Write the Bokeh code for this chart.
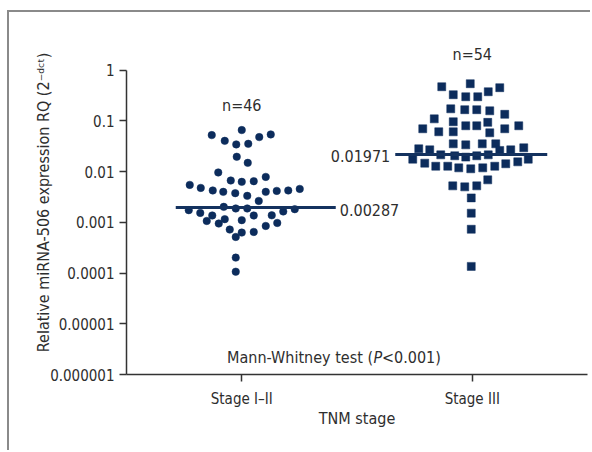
import numpy as np
from bokeh.plotting import figure
from bokeh.models import Range1d, FixedTicker, ColumnDataSource, CustomJSTickFormatter
from bokeh.core.properties import value
from bokeh.embed import file_html
from bokeh.resources import INLINE

# ---------------- data ----------------
groups = ["Stage I–II", "Stage III"]
group_n_labels = ["n=46", "n=54"]
median_labels = ["0.00287", "0.01971"]
median_drawn = [0.00195, 0.0217]          # where the median bars sit

stage12_values = [0.0521, 0.0655, 0.0402, 0.0342, 0.0351, 0.0476, 0.0538, 0.0195, 0.0148, 0.00957,
                  0.00545, 0.00475, 0.00665, 0.00625, 0.00644, 0.00783, 0.00423, 0.00397, 0.00374, 0.00331,
                  0.00263, 0.00397, 0.00415, 0.00423, 0.00454, 0.00173, 0.00153, 0.00201, 0.00187, 0.00187,
                  0.00136, 0.00106, 0.000944, 0.00115, 0.00110, 0.00136, 0.00137, 0.00163, 0.00181, 0.000968,
                  0.000845, 0.000718, 0.000513, 0.000626, 0.000644, 0.000201, 0.000106]
stage3_values = [0.468, 0.537, 0.326, 0.297, 0.297, 0.373, 0.448, 0.172, 0.165, 0.165,
                 0.157, 0.134, 0.109, 0.0955, 0.0796, 0.0796, 0.0929, 0.0695, 0.0606, 0.0606,
                 0.0579, 0.0695, 0.0796, 0.0351, 0.0335, 0.0351, 0.0351, 0.0280, 0.0267, 0.0260,
                 0.0267, 0.0293, 0.0175, 0.0213, 0.0204, 0.0192, 0.0204, 0.0213, 0.0175, 0.0146,
                 0.0127, 0.0127, 0.0118, 0.0113, 0.0118, 0.0127, 0.0142, 0.0155, 0.00684, 0.00521,
                 0.00498, 0.00521, 0.00302, 0.00151, 0.000728, 0.000135]

y_ticks = [1, 0.1, 0.01, 0.001, 0.0001, 0.00001, 0.000001]

# swarm spread of the dots (pixels, left/right of the category centre)
stage12_spread = [-30, 0, -17, -5.5, 6.5, 17.5, 29, -5, 6, -23.5, -52, -41, -11, 0, 12, 24, -29, -18.5,
                  -6.5, 5.5, 17, 24, 35, 46.5, 58, -53, -41.5, -18, -6, 5.5, -29.5, -35, -23, -17, 0,
                  12, 30, 41.5, 53, 35.5, 24, -12, -6, 0, 12, -6, -6]
stage3_spread = [-30.5, -2, -19, -6.5, 5.5, 16, 27.5, -21.5, -7.5, 4.5, 17.5, 32.5, -38, -19, -6.5,
                 4.5, 15.5, -49.5, -33.5, -19, 17.5, 32.5, 46.5, -19, -6.5, 10, 23.5, -53.5, -42.5,
                 27.5, 38.5, 51.5, -59.5, -31.5, -17.5, -6.5, 4.5, 16, 56, -47.5, -36.5, -24.5,
                 -13.5, -1.5, 10.5, 22.5, 33.5, 45.5, 15.5, -19.5, -7.5, 4.5, -1, -1, -1, -1]

# ---------------- layout ----------------
FONT = "DejaVu Sans Condensed, Roboto Condensed, Roboto, sans-serif"
TXT = "#2e2e2e"
NAVY = "#0c2c5c"
W, H = 583, 440
ML, MR, MT, MB = 117, 5, 18, 78
frame_w = W - ML - MR
frame_h = H - MT - MB
px_per_x = frame_w / 2.0
px_per_decade = 50.75
y_top = 10 ** (frame_h / px_per_decade - 6)

centers = [0.5, 1.5]

p = figure(width=W, height=H, x_range=Range1d(0, 2), y_range=Range1d(1e-6, y_top),
           y_axis_type="log", output_backend="svg", toolbar_location=None,
           min_border_left=ML, min_border_right=MR, min_border_top=MT, min_border_bottom=MB)
p.margin = (10, 0, 0, 7)
p.styles = {"border-top": "2px solid #8a8a8a", "border-left": "2px solid #8a8a8a"}
p.outline_line_color = None
p.grid.visible = False
p.background_fill_color = "white"
p.border_fill_color = "white"

# points
src12 = ColumnDataSource(dict(x=[centers[0] + s / px_per_x for s in stage12_spread], y=stage12_values))
src3 = ColumnDataSource(dict(x=[centers[1] + s / px_per_x for s in stage3_spread], y=stage3_values))
p.scatter("x", "y", source=src12, marker="circle", size=7.5, fill_color=NAVY, line_color=NAVY, line_width=0.5)
p.scatter("x", "y", source=src3, marker="square", size=8, fill_color=NAVY, line_color=NAVY, line_width=0.5)

# median bars
left_ext = [-66, -77]
right_ext = [94, 75]
p.segment(x0=[c + l / px_per_x for c, l in zip(centers, left_ext)], y0=median_drawn,
          x1=[c + r / px_per_x for c, r in zip(centers, right_ext)], y1=median_drawn,
          line_color="#14325f", line_width=3)

FS = "16px"
TFS = "15px"
# median value labels
p.text(x=[centers[0] + right_ext[0] / px_per_x], y=[median_drawn[0]], text=[median_labels[0]],
       text_font=value(FONT), text_font_size=FS, text_color=TXT,
       text_align="left", text_baseline="middle", x_offset=4, y_offset=2)
p.text(x=[centers[1] + left_ext[1] / px_per_x], y=[median_drawn[1]], text=[median_labels[1]],
       text_font=value(FONT), text_font_size=FS, text_color=TXT,
       text_align="right", text_baseline="middle", x_offset=-5, y_offset=2)

# n labels
p.text(x=centers, y=[0.2, 2.0], text=group_n_labels, text_font=value(FONT), text_font_size=FS,
       text_color=TXT, text_align="center", text_baseline="middle")

# Mann-Whitney note
note_y = [2.2e-6]
p.text(x=[1.0], y=note_y, text=["Mann-Whitney test ("], text_font=value(FONT), text_font_size=FS,
       text_color=TXT, text_align="right", text_baseline="middle", x_offset=16)
p.text(x=[1.0], y=note_y, text=["P"], text_font=value(FONT), text_font_size=FS,
       text_font_style="italic", text_color=TXT, text_align="left", text_baseline="middle", x_offset=16.5)
p.text(x=[1.0], y=note_y, text=["<0.001)"], text_font=value(FONT), text_font_size=FS,
       text_color=TXT, text_align="left", text_baseline="middle", x_offset=25)

# axes
p.yaxis.ticker = FixedTicker(ticks=y_ticks, minor_ticks=[])
p.yaxis.formatter = CustomJSTickFormatter(code="""
const d = Math.round(-Math.log10(tick));
return d <= 0 ? '1' : tick.toFixed(d);
""")
p.yaxis.bounds = (1e-6, 1)
p.yaxis.axis_label = "Relative miRNA-506 expression RQ (2⁻ᵈᶜᵗ)"
p.xaxis.ticker = FixedTicker(ticks=centers, minor_ticks=[])
p.xaxis.major_label_overrides = {c: g for c, g in zip(centers, groups)}
p.xaxis.axis_label = "TNM stage"

for ax in (p.xaxis, p.yaxis):
    ax.axis_line_color = "#333333"
    ax.axis_line_width = 1.5
    ax.major_tick_line_color = "#333333"
    ax.major_tick_line_width = 1.5
    ax.major_tick_out = 7
    ax.major_tick_in = 0
    ax.minor_tick_line_color = None
    ax.major_label_text_font = FONT
    ax.major_label_text_font_size = TFS
    ax.major_label_text_color = TXT
    ax.axis_label_text_font = FONT
    ax.axis_label_text_font_size = FS
    ax.axis_label_text_font_style = "normal"
    ax.axis_label_text_color = TXT

p.yaxis.major_label_standoff = 5
p.yaxis.axis_label_standoff = -6
p.xaxis.major_label_standoff = 8
p.xaxis.axis_label_standoff = -2

open("out.html", "w").write(file_html(p, INLINE))
